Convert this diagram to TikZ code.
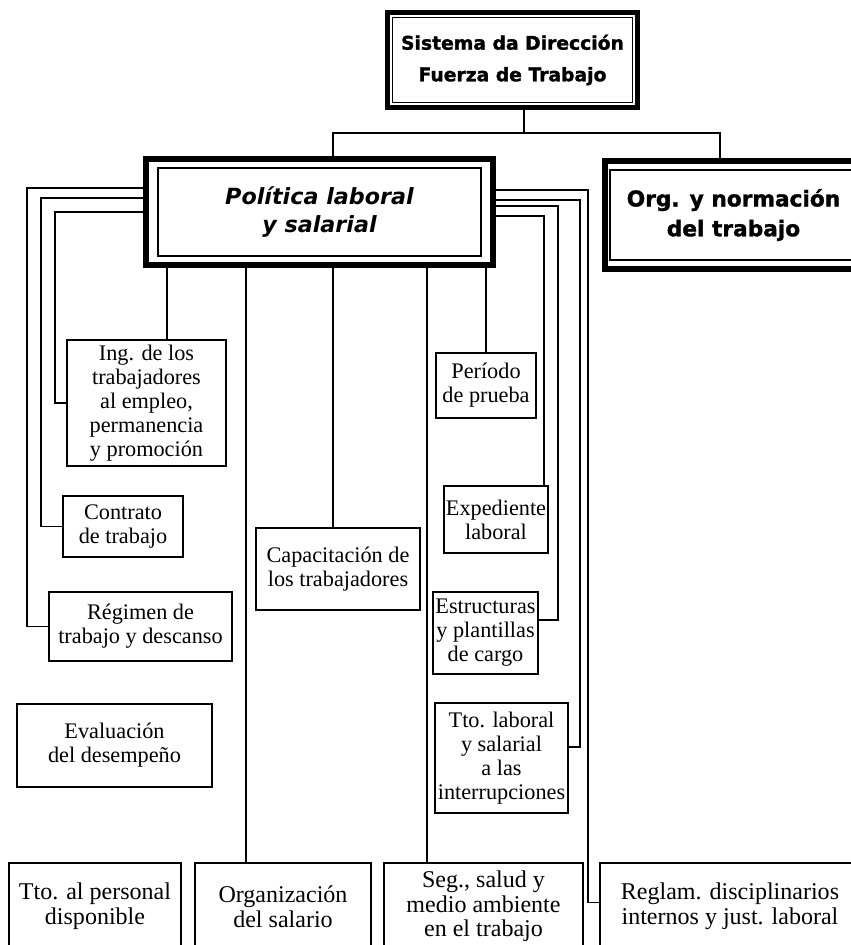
\documentclass[tikz,border=0pt]{standalone}
\usepackage{fontspec}
\setmainfont{Liberation Serif}
\newfontfamily\heavyfont{DejaVu Sans}[BoldFeatures={FakeBold=1.5}]
\usetikzlibrary{calc}

\begin{document}
\begin{tikzpicture}[x=0.03cm, y=-0.03cm,
    wh/.style 2 args={minimum width=#1*0.03cm, minimum height=#2*0.03cm},
    box/.style={draw, line width=1.3pt, align=center, inner sep=0pt,
      font=\fontsize{19}{20.5}\selectfont},
    lowbox/.style={box, font=\fontsize{20.5}{21}\selectfont},
    bigbox/.style={draw, line width=5pt, align=center, inner sep=0pt},
    inframe/.style={line width=1.3pt},
    link/.style={line width=1.2pt}]
    \useasboundingbox (0,0) rectangle (851,945);
    \clip (0,0) rectangle (851,945);

    % main boxes
    \node[bigbox, wh={250}{95}, font=\heavyfont\bfseries\fontsize{16}{27}\selectfont]
      (top) at (512.5,60) {Sistema da Dirección\\Fuerza de Trabajo};
    \node[bigbox, wh={347}{106}, font=\heavyfont\bfseries\itshape\fontsize{19}{24}\selectfont]
      (pol) at (319.5,212) {Política laboral\\y salarial};
    \node[bigbox, wh={257}{108}, font=\heavyfont\bfseries\fontsize{18.5}{25.5}\selectfont]
      (org) at (733.5,215) {Org. y normación\\del trabajo};
    \draw[inframe] ($(top.north west)+(8,8)$) rectangle ($(top.south east)+(-8,-8)$);
    \draw[inframe] ($(pol.north west)+(15,12)$) rectangle ($(pol.south east)+(-15,-12)$);
    \draw[inframe] ($(org.north west)+(8,12)$) rectangle ($(org.south east)+(-8,-12)$);

    % left column
    \node[box, wh={159}{126}] (ing) at (146.5,403) {Ing. de los\\trabajadores\\al empleo,\\permanencia\\y promoción};
    \node[box, wh={120}{61}] (con) at (123,526.5) {Contrato\\de trabajo};
    \node[box, wh={183}{69}] (reg) at (140.5,626.5) {Régimen de\\trabajo y descanso};
    \node[box, wh={195}{83}] (eva) at (114.5,745.5) {Evaluación\\del desempeño};
    \node[box, wh={164}{82}] (cap) at (338,569) {Capacitación de\\los trabajadores};

    % right column
    \node[box, wh={100}{65}] (per) at (486,385.5) {Período\\de prueba};
    \node[box, wh={104}{67}] (exp) at (496,519.5) {Expediente\\laboral};
    \node[box, wh={105}{82}] (est) at (485.5,633) {Estructuras\\y plantillas\\de cargo};
    \node[box, wh={133}{110}] (ttl) at (501.5,758) {Tto. laboral\\y salarial\\a las\\interrupciones};

    % bottom row
    \node[lowbox, wh={172}{87}] (tper) at (95,906.5) {Tto. al personal\\disponible};
    \node[lowbox, wh={176}{87}] (osal) at (283,906.5) {Organización\\del salario};
    \node[lowbox, wh={199}{87}] (seg) at (483.5,906.5) {Seg., salud y\\medio ambiente\\en el trabajo};
    \node[lowbox, wh={260}{87}] (rgl) at (730,906.5) {Reglam. disciplinarios\\internos y just. laboral};

    % top bus
    \coordinate (busl) at (333,133);
    \coordinate (busr) at (720,133);
    \draw[link] (top.south -| 524,0) -- (busl -| 524,0);
    \draw[link] (pol.north -| busl) -- (busl) -- (busr) -- (org.north -| busr);

    % left loops
    \draw[link] (ing.west) -| (55,212) -- (pol.west);
    \draw[link] (con.west) -| (41,198) -- (pol.west |- 0,198);
    \draw[link] (reg.west) -| (27,188) -- (pol.west |- 0,188);

    % straight drops
    \foreach \x/\n in {167/ing, 246/osal, 333/cap, 427/seg, 486/per}{
      \draw[link] (pol.south -| \x,0) -- (\n.north -| \x,0);
    }

    % right loops
    \draw[link] (exp.north -| 544,0) |- (pol.east |- 0,216);
    \draw[link] ($(est.east)+(0,-13)$) -| (558,206) -- (pol.east |- 0,206);
    \draw[link] ($(ttl.east)+(0,-11)$) -| (580,200) -- (pol.east |- 0,200);
    \draw[link] ($(rgl.west)+(0,-4)$) -| (588,190) -- (pol.east |- 0,190);
\end{tikzpicture}
\end{document}
